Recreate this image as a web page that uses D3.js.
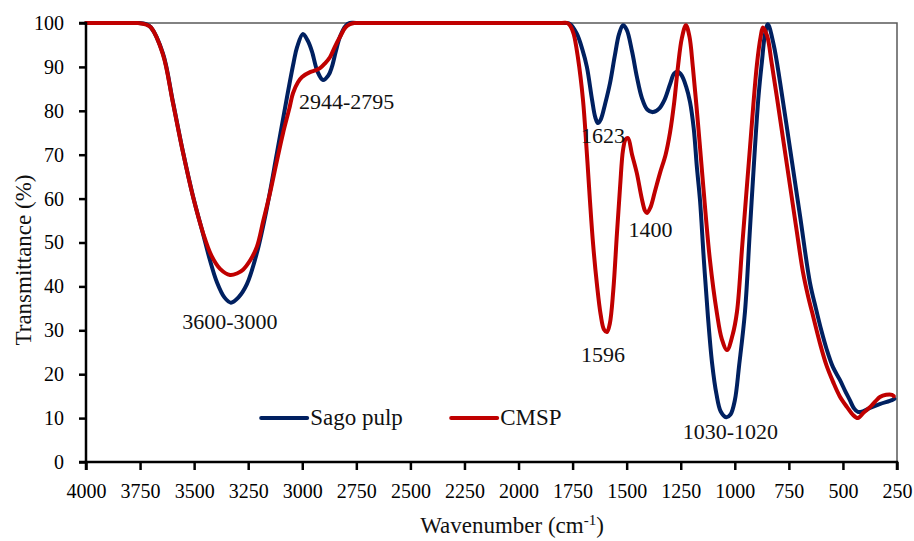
<!DOCTYPE html>
<html>
<head>
    <meta charset="UTF-8">
    <title>FTIR spectra</title>
    <script src="https://d3js.org/d3.v7.min.js"></script>
    <style type="text/css">
      body{
        margin: 0;
        background-color: white;
      }
      svg{
        display: block;
        font-family: "Liberation Serif", "DejaVu Serif", serif;
      }
    </style>
</head>
<body>
    <svg id="chart"></svg>

    <script>
        // Sago pulp spectrum (wavenumber, transmittance)
        const sagoX = [4000, 3790, 3760, 3720, 3700, 3644, 3598, 3551, 3505, 3459, 3427, 3395, 3360, 3330, 3295, 3256, 3210, 3163, 3117, 3071, 3040, 3024, 2997, 2975, 2955, 2930, 2904, 2880, 2863, 2845, 2826, 2800, 2780, 2750,
                       1800, 1780, 1760, 1730, 1705, 1684, 1660, 1645, 1633, 1620, 1600, 1577, 1555, 1535, 1517, 1500, 1475, 1453, 1430, 1405, 1378, 1350, 1325, 1300, 1280, 1263, 1245, 1225, 1207, 1190, 1175, 1161, 1143, 1124, 1105, 1085, 1065,
                       1040, 1020, 1000, 980, 953, 930, 907, 890, 875, 860, 847, 820, 791, 745, 699, 653, 625, 600, 576, 546, 514, 490, 468, 450, 431, 405, 375, 330, 273, 262];
        const sagoY = [100, 100, 100, 99.7, 99, 93, 82, 70.5, 60.5, 52, 46, 41, 37.5, 36.3, 37.5, 40.5, 47.6, 58, 70.4, 83, 91, 94.5, 97.5, 96, 93.5, 89, 87, 88, 90, 93.5, 96.8, 99.3, 100, 100,
                       100, 100, 99.7, 97.5, 94, 90, 82.5, 78.5, 77.2, 78, 81.5, 86.3, 92.5, 97.5, 99.5, 98.5, 93.5, 87.8, 83, 80.3, 79.7, 80.5, 82.5, 86, 88.5, 88.9, 88, 85.5, 82, 76, 67, 59.7, 46, 33, 22.5, 15.5, 11.5,
                       10.2, 10.8, 14, 22, 34.2, 53, 71.5, 83.5, 91, 97.5, 99.7, 95, 86.6, 71.5, 56.3, 41, 35, 30, 25.8, 21.6, 18.7, 16.2, 14.1, 12.3, 11.4, 11.6, 12.3, 13.2, 14.1, 14.4];

        // CMSP spectrum
        const cmspX = [4000, 3790, 3760, 3720, 3700, 3644, 3598, 3551, 3505, 3459, 3420, 3380, 3334, 3300, 3274, 3240, 3210, 3180, 3149, 3120, 3089, 3060, 3043, 3020, 3001, 2964, 2940, 2918, 2895, 2872, 2850, 2826, 2800, 2780, 2760, 2730,
                       1800, 1775, 1760, 1745, 1725, 1702, 1685, 1670, 1655, 1638, 1620, 1605, 1591, 1578, 1562, 1545, 1530, 1517, 1505, 1494, 1475, 1453, 1430, 1415, 1406, 1390, 1370, 1346, 1320, 1300, 1280, 1263, 1245, 1226, 1210, 1194, 1170, 1147, 1115, 1083,
                       1060, 1036, 1010, 990, 965, 930, 898, 880, 870, 850, 830, 805, 759, 713, 685, 660, 643, 606, 576, 546, 515, 481, 455, 431, 405, 375, 350, 329, 300, 273, 265];
        const cmspY = [100, 100, 100, 99.6, 99, 92.8, 81.8, 70.4, 60.4, 52.2, 47, 44, 42.6, 43, 43.8, 46, 49, 55, 61.3, 68, 74.9, 80.5, 84, 86.5, 87.7, 88.8, 89.2, 89.7, 90.8, 92.2, 94.5, 96.8, 99, 99.7, 100, 100,
                       100, 100, 99.3, 97.5, 92, 82.5, 71, 59.7, 49.5, 40.7, 33.5, 30.2, 29.6, 31.5, 39, 52, 63, 71, 73.5, 73.8, 70, 65.8, 60, 57.2, 56.7, 58, 61.5, 65.8, 70, 74.9, 82, 90, 96.5, 99.5, 97, 90, 77, 63.5, 46, 34,
                       28, 25.5, 29, 34.2, 49.7, 71.5, 90.4, 97, 99, 97, 91, 83, 67.7, 52.4, 43.3, 37.5, 34.2, 27, 22, 18.3, 15, 12.5, 10.8, 10, 11.2, 12.5, 13.8, 14.8, 15.3, 15.3, 15];

        const xTicks = d3.range(4000, 249, -250);
        const yTicks = d3.range(0, 101, 10);

        // peak labels: text, wavenumber, transmittance at baseline
        const peakText = ["3600-3000", "2944-2795", "1623", "1400", "1596", "1030-1020"];
        const peakX = [3335, 2795, 1610, 1390, 1610, 1020];
        const peakY = [30.3, 80.4, 72.7, 51.2, 22.8, 5.2];

        const seriesNames = ["Sago pulp", "CMSP"];
        const seriesColors = ["#002060", "#c00000"];

        const W = 914, H = 541;
        const margins = {top: 23, bottom: 79, left: 86, right: 17};
        const width = W - margins.left - margins.right;
        const height = H - margins.top - margins.bottom;

        const svg = d3.select("#chart")
          .attr("width", W)
          .attr("height", H);

        const chart = svg.append("g")
          .attr("transform", `translate(${margins.left}, ${margins.top})`);

        const x_scale = d3.scaleLinear()
          .domain([4000, 250])
          .range([0, width]);

        const y_scale = d3.scaleLinear()
          .domain([0, 100])
          .range([height, 0]);

        // plot frame (top and right)
        chart.append("rect")
          .attr("width", width)
          .attr("height", height)
          .attr("fill", "none")
          .attr("stroke", "#595959")
          .attr("stroke-width", 1.5);

        const line = d3.line()
          .x((d)=>x_scale(d[0]))
          .y((d)=>y_scale(d[1]))
          .curve(d3.curveCatmullRom.alpha(0.5));

        const series = [d3.zip(sagoX, sagoY), d3.zip(cmspX, cmspY)];

        chart.selectAll("path.spectrum")
          .data(series)
          .enter()
          .append("path")
          .attr("class", "spectrum")
          .attr("d", line)
          .attr("fill", "none")
          .attr("stroke", (d, i)=>seriesColors[i])
          .attr("stroke-width", 4)
          .attr("stroke-linejoin", "round")
          .attr("stroke-linecap", "round");

        // axes
        const xAxis = chart.append("g")
          .attr("transform", `translate(0, ${height})`)
          .call(d3.axisBottom(x_scale).tickValues(xTicks).tickSize(8).tickPadding(14).tickFormat(d3.format("d")));

        const yAxis = chart.append("g")
          .call(d3.axisLeft(y_scale).tickValues(yTicks).tickSize(7).tickPadding(15));

        [xAxis, yAxis].forEach((ax)=>{
          ax.select(".domain").attr("stroke", "#000").attr("stroke-width", 2.5);
          ax.selectAll(".tick line").attr("stroke", "#000").attr("stroke-width", 2.5);
          ax.selectAll(".tick text")
            .attr("fill", "#000")
            .style("font-size", "20px")
            .style("font-family", "'Liberation Serif', serif");
        });
        yAxis.select(".domain").attr("d", `M-7,${height}H0V0H-7`);
        xAxis.select(".domain").attr("d", `M0,8V0H${width}V8`);

        // peak annotations
        chart.selectAll("text.peak")
          .data(peakText)
          .enter()
          .append("text")
          .attr("class", "peak")
          .attr("x", (d, i)=>x_scale(peakX[i]))
          .attr("y", (d, i)=>y_scale(peakY[i]))
          .attr("text-anchor", "middle")
          .style("font-size", "22px")
          .attr("fill", "#111")
          .text((d)=>d);

        // legend
        const legend = chart.selectAll("g.legend")
          .data(seriesNames)
          .enter()
          .append("g")
          .attr("class", "legend")
          .attr("transform", (d, i)=>`translate(${x_scale(3190) + (i ? 190 : 0)}, ${y_scale(10)})`);

        legend.append("line")
          .attr("x1", 0).attr("x2", 46)
          .attr("stroke", (d, i)=>seriesColors[i])
          .attr("stroke-width", 4)
          .attr("stroke-linecap", "round");

        legend.append("text")
          .attr("x", 49)
          .attr("y", 7)
          .style("font-size", "23px")
          .attr("fill", "#111")
          .text((d)=>d);

        // axis titles
        const xTitle = svg.append("text")
          .attr("text-anchor", "middle")
          .attr("x", 512)
          .attr("y", 533)
          .style("font-size", "23px")
          .attr("fill", "#111")
          .text("Wavenumber (cm");
        xTitle.append("tspan")
          .attr("dy", -8)
          .style("font-size", "15px")
          .text("-1");
        xTitle.append("tspan")
          .attr("dy", 8)
          .text(")");

        svg.append("text")
          .attr("text-anchor", "middle")
          .attr("transform", `translate(31, 260)rotate(-90)`)
          .style("font-size", "23px")
          .attr("fill", "#111")
          .text("Transmittance (%)");
    </script>
</body>
</html>
